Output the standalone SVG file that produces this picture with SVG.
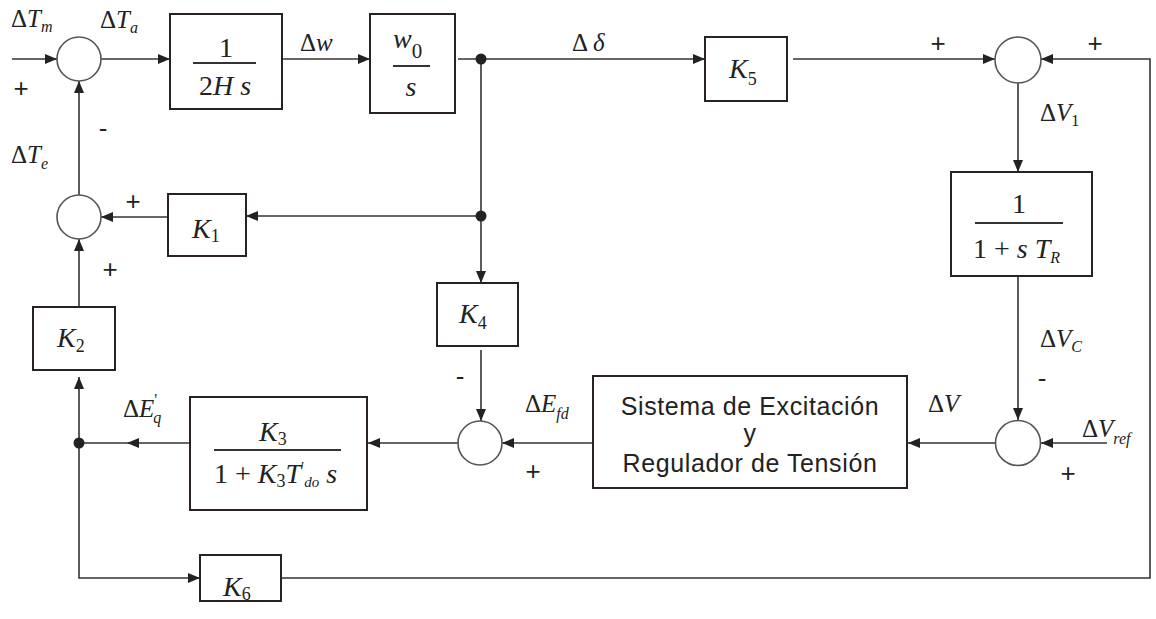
<svg xmlns="http://www.w3.org/2000/svg" width="1156" height="619" viewBox="0 0 1156 619">
<style>
.bg{fill:#fff}
.box{fill:#fff;stroke:#2a2222;stroke-width:2}
.sum{fill:#fff;stroke:#555;stroke-width:1.6}
.ln{fill:none;stroke:#333;stroke-width:1.6}
.dot{fill:#222}
.frac{stroke:#333;stroke-width:2}
.m{font-family:"Liberation Serif","Times New Roman",serif;font-size:25px;fill:#222}
.bx{font-family:"Liberation Serif","Times New Roman",serif;font-size:28px;fill:#222}
.i{font-style:italic}
.sb{font-size:16px}
.sg{font-family:"Liberation Sans",Arial,sans-serif;font-size:26px;fill:#222}
.sans{font-family:"Liberation Sans",Arial,sans-serif;font-size:25px;letter-spacing:0.6px;fill:#222}
</style>
<defs>
<marker id="ah" markerUnits="userSpaceOnUse" markerWidth="14" markerHeight="12" refX="12" refY="5" orient="auto">
<path d="M0,0 L12,5 L0,10 z" fill="#222"/>
</marker>
</defs>
<rect class="bg" x="0" y="0" width="1156" height="619"/>

<g id="connectors">
<path class="ln" d="M12 59 H57" marker-end="url(#ah)"/>
<path class="ln" d="M101 59 H170" marker-end="url(#ah)"/>
<path class="ln" d="M282 59 H370" marker-end="url(#ah)"/>
<path class="ln" d="M458 59 H705" marker-end="url(#ah)"/>
<path class="ln" d="M793 59 H995" marker-end="url(#ah)"/>
<path class="ln" d="M1018 83 V172" marker-end="url(#ah)"/>
<path class="ln" d="M1018 276 V420" marker-end="url(#ah)"/>
<path class="ln" d="M1107 443 H1041" marker-end="url(#ah)"/>
<path class="ln" d="M995 443 H908" marker-end="url(#ah)"/>
<path class="ln" d="M593 443 H502" marker-end="url(#ah)"/>
<path class="ln" d="M458 443 H368" marker-end="url(#ah)"/>
<path class="ln" d="M190 443 H127" marker-end="url(#ah)"/>
<path class="ln" d="M127 443 H79"/>
<path class="ln" d="M79 443 V377" marker-end="url(#ah)"/>
<path class="ln" d="M79 307 V239" marker-end="url(#ah)"/>
<path class="ln" d="M79 195 V81" marker-end="url(#ah)"/>
<path class="ln" d="M481 216 H246" marker-end="url(#ah)"/>
<path class="ln" d="M168 217 H101" marker-end="url(#ah)"/>
<path class="ln" d="M481 59 V283" marker-end="url(#ah)"/>
<path class="ln" d="M481 350 V421" marker-end="url(#ah)"/>
<path class="ln" d="M79 443 V578 H200" marker-end="url(#ah)"/>
<path class="ln" d="M281 578 H1150 V59 H1041" marker-end="url(#ah)"/>
<circle class="dot" cx="481" cy="59" r="5.5"/>
<circle class="dot" cx="481" cy="216" r="5.5"/>
<circle class="dot" cx="79" cy="443" r="5.5"/>
</g>

<g id="sum1"><circle class="sum" cx="79" cy="59" r="22"/></g>
<g id="sum2"><circle class="sum" cx="79" cy="217" r="22"/></g>
<g id="sum3"><circle class="sum" cx="480" cy="443" r="22"/></g>
<g id="sum4"><circle class="sum" cx="1018" cy="60" r="23"/></g>
<g id="sum5"><circle class="sum" cx="1018" cy="443" r="22.5"/></g>

<g id="box-2Hs">
<rect class="box" x="170" y="14" width="112" height="95"/>
<text class="bx" x="226" y="57" text-anchor="middle">1</text>
<line class="frac" x1="193" y1="63" x2="256" y2="63"/>
<text class="bx" x="225" y="95" text-anchor="middle">2<tspan class="i">H s</tspan></text>
</g>

<g id="box-w0s">
<rect class="box" x="370" y="14" width="85" height="99"/>
<text class="bx" x="393" y="48"><tspan class="i">w</tspan><tspan font-size="21" dy="10">0</tspan></text>
<line class="frac" x1="393" y1="66" x2="430" y2="66"/>
<text class="bx i" x="411" y="96" text-anchor="middle">s</text>
</g>

<g id="box-K5">
<rect class="box" x="705" y="37" width="82" height="64"/>
<text class="bx" x="729" y="78"><tspan class="i">K</tspan><tspan font-size="18" dy="7">5</tspan></text>
</g>

<g id="box-TR">
<rect class="box" x="951" y="172" width="141" height="104"/>
<text class="bx" x="1019" y="213" text-anchor="middle">1</text>
<line class="frac" x1="975" y1="223" x2="1063" y2="223"/>
<text class="bx" x="973" y="258">1 + <tspan class="i">s T</tspan><tspan class="i" font-size="16" dy="5">R</tspan></text>
</g>

<g id="box-K1">
<rect class="box" x="168" y="194" width="78" height="62"/>
<text class="bx" x="192" y="238"><tspan class="i">K</tspan><tspan font-size="18" dy="4">1</tspan></text>
</g>

<g id="box-K2">
<rect class="box" x="33" y="307" width="82" height="63"/>
<text class="bx" x="57" y="347"><tspan class="i">K</tspan><tspan font-size="18" dy="5">2</tspan></text>
</g>

<g id="box-K4">
<rect class="box" x="437" y="283" width="81" height="63"/>
<text class="bx" x="459" y="323"><tspan class="i">K</tspan><tspan font-size="18" dy="6">4</tspan></text>
</g>

<g id="box-K3">
<rect class="box" x="190" y="397" width="177" height="113"/>
<text class="bx" x="259" y="441"><tspan class="i">K</tspan><tspan font-size="18" dy="4">3</tspan></text>
<line class="frac" x1="214" y1="450" x2="341" y2="450"/>
<text class="bx" x="214" y="483">1 + <tspan class="i">K</tspan><tspan font-size="18" dy="4">3</tspan><tspan class="i" dy="-4">T</tspan><tspan font-size="15" dy="-11">′</tspan><tspan class="i" font-size="15" dy="15">do</tspan><tspan class="i" dy="-4"> s</tspan></text>
</g>

<g id="box-K6">
<rect class="box" x="200" y="555" width="81" height="46"/>
<text class="bx" x="223" y="596"><tspan class="i">K</tspan><tspan font-size="18" dy="4">6</tspan></text>
</g>

<g id="box-exc">
<rect class="box" x="593" y="376" width="314" height="112"/>
<text class="sans" x="750" y="415" text-anchor="middle">Sistema de Excitación</text>
<text class="sans" x="750" y="442" text-anchor="middle">y</text>
<text class="sans" x="750" y="472" text-anchor="middle">Regulador de Tensión</text>
</g>

<g id="labels">
<text class="m" x="11" y="27">Δ<tspan class="i">T</tspan><tspan class="i sb" dy="5">m</tspan></text>
<text class="m" x="100" y="28">Δ<tspan class="i">T</tspan><tspan class="i sb" dy="5">a</tspan></text>
<text class="m" x="11" y="163">Δ<tspan class="i">T</tspan><tspan class="i sb" dy="6">e</tspan></text>
<text class="m" x="300" y="51">Δ<tspan class="i">w</tspan></text>
<text class="m" x="572" y="51">Δ <tspan class="i">δ</tspan></text>
<text class="m" x="1040" y="121">Δ<tspan class="i">V</tspan><tspan class="sb" dy="5">1</tspan></text>
<text class="m" x="1040" y="347">Δ<tspan class="i">V</tspan><tspan class="i sb" dy="5">C</tspan></text>
<text class="m" x="928" y="412">Δ<tspan class="i">V</tspan></text>
<text class="m" x="1082" y="437">Δ<tspan class="i">V</tspan><tspan class="i sb" dy="7">ref</tspan></text>
<text class="m" x="525" y="412">Δ<tspan class="i">E</tspan><tspan class="i sb" dy="7">fd</tspan></text>
<text class="m" x="123" y="417">Δ<tspan class="i">E</tspan><tspan class="sb" dy="-12">'</tspan><tspan class="i sb" dx="-4" dy="18">q</tspan></text>
<text class="sg" x="21" y="97" text-anchor="middle">+</text>
<text class="sg" x="103" y="137" text-anchor="middle">-</text>
<text class="sg" x="133" y="210" text-anchor="middle">+</text>
<text class="sg" x="110" y="278" text-anchor="middle">+</text>
<text class="sg" x="938" y="52" text-anchor="middle">+</text>
<text class="sg" x="1095" y="52" text-anchor="middle">+</text>
<text class="sg" x="460" y="385" text-anchor="middle">-</text>
<text class="sg" x="533" y="480" text-anchor="middle">+</text>
<text class="sg" x="1042" y="387" text-anchor="middle">-</text>
<text class="sg" x="1068" y="482" text-anchor="middle">+</text>
</g>
</svg>
